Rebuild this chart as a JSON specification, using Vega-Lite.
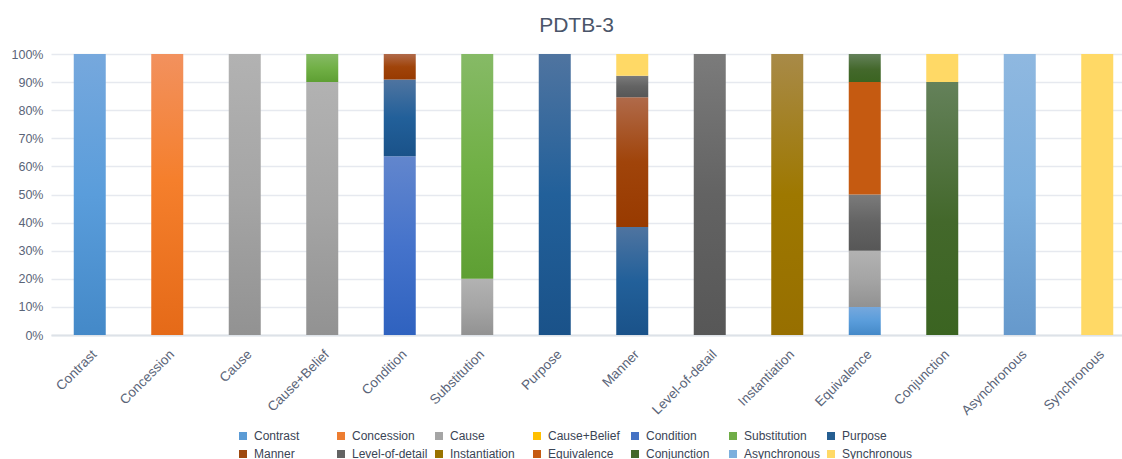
{
  "$schema": "https://vega.github.io/schema/vega-lite/v6.json",
  "autosize": "none",
  "width": 1071,
  "height": 281,
  "padding": {"left": 51, "top": 54, "right": 0, "bottom": 124},
  "background": "white",
  "title": {
    "text": "PDTB-3",
    "fontSize": 21,
    "fontWeight": "normal",
    "font": "Liberation Sans",
    "color": "#4a5569",
    "anchor": "middle",
    "baseline": "alphabetic",
    "offset": -5,
    "dx": -10
  },
  "config": {
    "view": {"stroke": null},
    "font": "Liberation Sans"
  },
  "data": {
    "values": [
      {"relation": "Contrast", "sense": "Contrast", "idx": 1, "pct": 100},
      {"relation": "Concession", "sense": "Concession", "idx": 2, "pct": 100},
      {"relation": "Cause", "sense": "Cause", "idx": 3, "pct": 100},
      {"relation": "Cause+Belief", "sense": "Cause", "idx": 3, "pct": 90},
      {"relation": "Cause+Belief", "sense": "Substitution", "idx": 6, "pct": 10},
      {"relation": "Condition", "sense": "Condition", "idx": 5, "pct": 63.64},
      {"relation": "Condition", "sense": "Purpose", "idx": 7, "pct": 27.27},
      {"relation": "Condition", "sense": "Manner", "idx": 8, "pct": 9.09},
      {"relation": "Substitution", "sense": "Cause", "idx": 3, "pct": 20},
      {"relation": "Substitution", "sense": "Substitution", "idx": 6, "pct": 80},
      {"relation": "Purpose", "sense": "Purpose", "idx": 7, "pct": 100},
      {"relation": "Manner", "sense": "Purpose", "idx": 7, "pct": 38.46},
      {"relation": "Manner", "sense": "Manner", "idx": 8, "pct": 46.15},
      {"relation": "Manner", "sense": "Level-of-detail", "idx": 9, "pct": 7.69},
      {"relation": "Manner", "sense": "Synchronous", "idx": 14, "pct": 7.7},
      {"relation": "Level-of-detail", "sense": "Level-of-detail", "idx": 9, "pct": 100},
      {"relation": "Instantiation", "sense": "Instantiation", "idx": 10, "pct": 100},
      {"relation": "Equivalence", "sense": "Contrast", "idx": 1, "pct": 10},
      {"relation": "Equivalence", "sense": "Cause", "idx": 3, "pct": 20},
      {"relation": "Equivalence", "sense": "Level-of-detail", "idx": 9, "pct": 20},
      {"relation": "Equivalence", "sense": "Equivalence", "idx": 11, "pct": 40},
      {"relation": "Equivalence", "sense": "Conjunction", "idx": 12, "pct": 10},
      {"relation": "Conjunction", "sense": "Conjunction", "idx": 12, "pct": 90},
      {"relation": "Conjunction", "sense": "Synchronous", "idx": 14, "pct": 10},
      {"relation": "Asynchronous", "sense": "Asynchronous", "idx": 13, "pct": 100},
      {"relation": "Synchronous", "sense": "Synchronous", "idx": 14, "pct": 100}
    ]
  },
  "encoding": {
    "x": {
      "field": "relation",
      "type": "nominal",
      "sort": ["Contrast", "Concession", "Cause", "Cause+Belief", "Condition", "Substitution", "Purpose", "Manner", "Level-of-detail", "Instantiation", "Equivalence", "Conjunction", "Asynchronous", "Synchronous"],
      "scale": {"range": [0, 1085], "paddingInner": 0.587, "paddingOuter": 0.2935},
      "axis": {
        "title": null,
        "labelAngle": -45,
        "labelFontSize": 13.5,
        "labelColor": "#5a6478",
        "labelPadding": 12,
        "ticks": false,
        "domain": true,
        "domainColor": "#dde2e8",
        "domainWidth": 2,
        "grid": false
      }
    },
    "y": {
      "field": "pct",
      "type": "quantitative",
      "stack": "zero",
      "scale": {"domain": [0, 100], "nice": false},
      "axis": {
        "title": null,
        "values": [0, 10, 20, 30, 40, 50, 60, 70, 80, 90, 100],
        "labelExpr": "datum.value + '%'",
        "labelFontSize": 12.5,
        "labelColor": "#5a6478",
        "labelPadding": 8,
        "ticks": false,
        "domain": false,
        "grid": true,
        "gridColor": "#e6e9ef",
        "gridWidth": 1.3
      }
    },
    "order": {"field": "idx", "type": "quantitative", "sort": "ascending"}
  },
  "layer": [
    {
      "mark": {"type": "bar", "opacity": 0},
      "encoding": {
        "color": {
          "field": "sense",
          "type": "nominal",
          "scale": {
            "domain": ["Contrast", "Concession", "Cause", "Cause+Belief", "Condition", "Substitution", "Purpose", "Manner", "Level-of-detail", "Instantiation", "Equivalence", "Conjunction", "Asynchronous", "Synchronous"],
            "range": ["#5b9bd5", "#ed7d31", "#a5a5a5", "#ffc000", "#4472c4", "#70ad47", "#255e91", "#9e480e", "#636363", "#997300", "#c55a11", "#43682b", "#7cafdd", "#ffd966"]
          },
          "legend": {
            "title": null,
            "orient": "none",
            "legendX": 186,
            "legendY": 376,
            "direction": "horizontal",
            "columns": 7,
            "gridAlign": "all",
            "padding": 0,
            "columnPadding": 4,
            "rowPadding": 6,
            "symbolType": "square",
            "symbolSize": 64,
            "symbolStrokeWidth": 0,
            "symbolOpacity": 1,
            "labelOffset": 5,
            "labelFontSize": 12,
            "labelColor": "#3a4455",
            "labelFont": "Liberation Sans"
          }
        }
      }
    },
    {
      "mark": {"type": "bar"},
      "encoding": {
        "color": {
          "condition": [
            {"test": "datum.sense === 'Contrast'", "value": {"gradient": "linear", "x1": 0, "y1": 0, "x2": 0, "y2": 1, "stops": [{"offset": 0, "color": "#76a8dd"}, {"offset": 0.5, "color": "#5a9ddb"}, {"offset": 1, "color": "#4489c8"}]}},
            {"test": "datum.sense === 'Concession'", "value": {"gradient": "linear", "x1": 0, "y1": 0, "x2": 0, "y2": 1, "stops": [{"offset": 0, "color": "#f2915e"}, {"offset": 0.45, "color": "#f57f2c"}, {"offset": 1, "color": "#e56a18"}]}},
            {"test": "datum.sense === 'Cause'", "value": {"gradient": "linear", "x1": 0, "y1": 0, "x2": 0, "y2": 1, "stops": [{"offset": 0, "color": "#b2b2b2"}, {"offset": 0.5, "color": "#a5a5a5"}, {"offset": 1, "color": "#929292"}]}},
            {"test": "datum.sense === 'Cause+Belief'", "value": {"gradient": "linear", "x1": 0, "y1": 0, "x2": 0, "y2": 1, "stops": [{"offset": 0, "color": "#ffca2a"}, {"offset": 0.5, "color": "#ffc000"}, {"offset": 1, "color": "#f0b400"}]}},
            {"test": "datum.sense === 'Condition'", "value": {"gradient": "linear", "x1": 0, "y1": 0, "x2": 0, "y2": 1, "stops": [{"offset": 0, "color": "#6286cd"}, {"offset": 0.5, "color": "#4573cb"}, {"offset": 1, "color": "#2f62bf"}]}},
            {"test": "datum.sense === 'Substitution'", "value": {"gradient": "linear", "x1": 0, "y1": 0, "x2": 0, "y2": 1, "stops": [{"offset": 0, "color": "#86ba66"}, {"offset": 0.5, "color": "#71b046"}, {"offset": 1, "color": "#5e9f33"}]}},
            {"test": "datum.sense === 'Purpose'", "value": {"gradient": "linear", "x1": 0, "y1": 0, "x2": 0, "y2": 1, "stops": [{"offset": 0, "color": "#4f74a0"}, {"offset": 0.5, "color": "#22609a"}, {"offset": 1, "color": "#1a5289"}]}},
            {"test": "datum.sense === 'Manner'", "value": {"gradient": "linear", "x1": 0, "y1": 0, "x2": 0, "y2": 1, "stops": [{"offset": 0, "color": "#b06a4a"}, {"offset": 0.5, "color": "#a0440a"}, {"offset": 1, "color": "#983a00"}]}},
            {"test": "datum.sense === 'Level-of-detail'", "value": {"gradient": "linear", "x1": 0, "y1": 0, "x2": 0, "y2": 1, "stops": [{"offset": 0, "color": "#7b7b7b"}, {"offset": 0.5, "color": "#636363"}, {"offset": 1, "color": "#575757"}]}},
            {"test": "datum.sense === 'Instantiation'", "value": {"gradient": "linear", "x1": 0, "y1": 0, "x2": 0, "y2": 1, "stops": [{"offset": 0, "color": "#a88a48"}, {"offset": 0.5, "color": "#9e7800"}, {"offset": 1, "color": "#976f00"}]}},
            {"test": "datum.sense === 'Equivalence'", "value": "#c55a11"},
            {"test": "datum.sense === 'Conjunction'", "value": {"gradient": "linear", "x1": 0, "y1": 0, "x2": 0, "y2": 1, "stops": [{"offset": 0, "color": "#64815a"}, {"offset": 0.55, "color": "#43682b"}, {"offset": 1, "color": "#3b6421"}]}},
            {"test": "datum.sense === 'Asynchronous'", "value": {"gradient": "linear", "x1": 0, "y1": 0, "x2": 0, "y2": 1, "stops": [{"offset": 0, "color": "#8fb8e0"}, {"offset": 0.5, "color": "#7cafdd"}, {"offset": 1, "color": "#6699cc"}]}}
          ],
          "value": "#ffd966"
        }
      }
    }
  ]
}
